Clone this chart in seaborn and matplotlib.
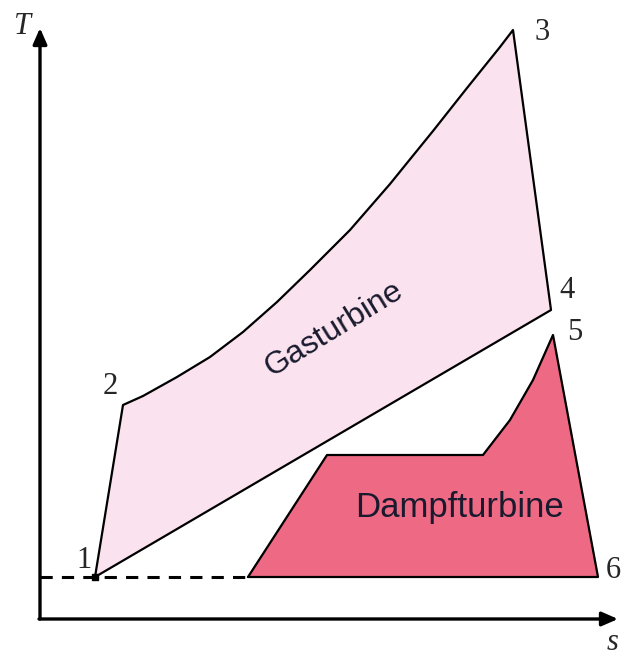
import pandas as pd
import matplotlib.pyplot as plt
import seaborn as sns

# Gasturbinen-Prozess (s, T) - Punkte 1 -> 2 -> (Kurve) -> 3 -> 4 -> 1
gas_s = [95, 123, 143, 177, 210, 243, 277, 310, 330, 350, 370, 390, 407, 433, 467, 500, 513, 551, 95]
gas_T = [82, 254, 263, 282, 302, 327, 357, 389, 409, 429, 452, 475, 496, 528, 571, 612, 629, 349, 82]

# Dampfturbinen-Prozess
steam_s = [248, 327, 483, 510, 533, 553, 598, 248]
steam_T = [82, 204, 204, 239, 279, 324, 82, 82]

# Zustandspunkte
point_labels = ["1", "2", "3", "4", "5", "6"]
label_s = [84, 110, 542, 567, 575, 613]
label_T = [99, 273, 627, 369, 327, 89]

gas_color = "#FAE3EF"
steam_color = "#EE6A84"

sns.set_theme(style="white")
plt.rcParams['font.family'] = ['Liberation Serif', 'DejaVu Serif']

fig = plt.figure(figsize=(6.25, 6.59), dpi=100)
ax = fig.add_axes([0, 0, 1, 1])
ax.set_xlim(0, 625)
ax.set_ylim(0, 659)
ax.axis("off")

df_gas = pd.DataFrame({"s": gas_s, "T": gas_T})
df_steam = pd.DataFrame({"s": steam_s, "T": steam_T})

ax.fill(df_gas["s"], df_gas["T"], color=gas_color, zorder=1)
ax.fill(df_steam["s"], df_steam["T"], color=steam_color, zorder=1)
sns.lineplot(data=df_gas, x="s", y="T", sort=False, estimator=None,
             color="black", linewidth=1.6, ax=ax, zorder=3)
sns.lineplot(data=df_steam, x="s", y="T", sort=False, estimator=None,
             color="black", linewidth=1.6, ax=ax, zorder=3)

# gestrichelte Linie auf Höhe von Punkt 1
ax.plot([40, steam_s[0]], [gas_T[0], gas_T[0]], color="black", linewidth=2.2,
        dashes=(4, 3), zorder=2)
ax.plot([gas_s[0]], [gas_T[0]], marker="s", markersize=4, color="black", zorder=4)

# Achsen mit Pfeilen
ax.annotate("", xy=(40, 631), xytext=(40, 40),
            arrowprops=dict(arrowstyle="-|>,head_length=0.8,head_width=0.35",
                            color="black", lw=2.4, shrinkA=0, shrinkB=0))
ax.annotate("", xy=(618, 40), xytext=(39, 40),
            arrowprops=dict(arrowstyle="-|>,head_length=0.8,head_width=0.35",
                            color="black", lw=2.4, shrinkA=0, shrinkB=0))
ax.text(22, 633, "T", fontsize=22, style="italic", ha="center", va="center")
ax.text(613, 16, "s", fontsize=22, style="italic", ha="center", va="center")

for lab, x, y in zip(point_labels, label_s, label_T):
    ax.text(x, y, lab, fontsize=22, ha="center", va="center")

ax.text(334, 330, "Gasturbine", fontsize=23, rotation=31.5, family="Liberation Sans",
        color="#1a1a2e", ha="center", va="center", rotation_mode="anchor")
ax.text(460, 152, "Dampfturbine", fontsize=25, family="Liberation Sans",
        color="#1a1a2e", ha="center", va="center")

fig.savefig("out.png", dpi=100)
